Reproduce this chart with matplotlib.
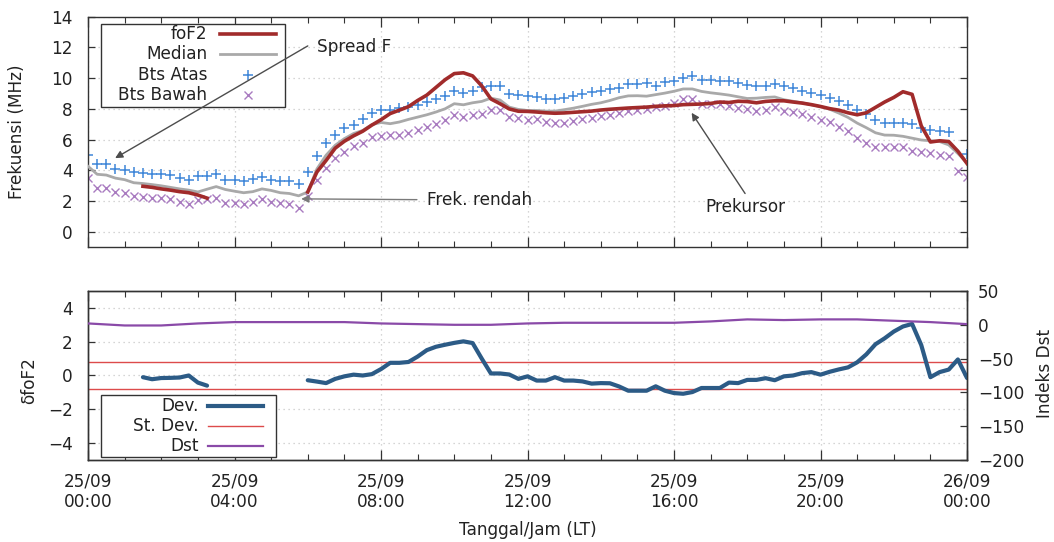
import numpy as np
import matplotlib
matplotlib.use("Agg")
import matplotlib.pyplot as plt
from matplotlib.lines import Line2D
from matplotlib.patches import Rectangle

nan = np.nan

# Time axis: 25/09 00:00 LT to 26/09 00:00 LT, 15-minute steps (hours)
hours = np.arange(97) * 0.25

# Upper bound of the quartile range (MHz)
bts_atas = [5.0, 4.4, 4.4, 4.1, 4.05, 3.9, 3.85, 3.8, 3.75, 3.7, 3.5, 3.35,
            3.65, 3.65, 3.8, 3.35, 3.35, 3.3, 3.45, 3.6, 3.4, 3.3, 3.3, 3.15,
            3.9, 4.95, 5.8, 6.33, 6.76, 6.98, 7.36, 7.75, 7.9, 7.95, 8.06, 8.12,
            8.27, 8.44, 8.66, 8.83, 9.14, 9.05, 9.14, 9.42, 9.48, 9.48, 8.98, 8.88,
            8.83, 8.79, 8.62, 8.62, 8.73, 8.83, 8.94, 9.09, 9.16, 9.27, 9.37, 9.59,
            9.59, 9.7, 9.52, 9.74, 9.81, 10.02, 10.13, 9.91, 9.91, 9.81, 9.81, 9.7,
            9.55, 9.46, 9.52, 9.61, 9.46, 9.35, 9.18, 9.03, 8.92, 8.7, 8.49, 8.23,
            7.95, 7.67, 7.3, 7.08, 7.08, 7.08, 7.02, 6.76, 6.65, 6.59, 6.5, nan,
            5.08]

# Lower bound of the quartile range (MHz)
bts_bawah = [3.52, 2.87, 2.87, 2.6, 2.55, 2.33, 2.3, 2.22, 2.18, 2.12, 1.94, 1.83,
             2.05, 2.12, 2.22, 1.9, 1.9, 1.79, 1.94, 2.12, 1.94, 1.85, 1.79, 1.57,
             2.35, 3.37, 4.13, 4.82, 5.2, 5.6, 5.8, 6.18, 6.24, 6.28, 6.33, 6.46,
             6.6, 6.82, 7.04, 7.26, 7.62, 7.47, 7.58, 7.69, 7.9, 7.9, 7.47, 7.4,
             7.3, 7.32, 7.15, 7.06, 7.1, 7.21, 7.32, 7.43, 7.54, 7.58, 7.75, 7.85,
             7.95, 8.0, 8.1, 8.19, 8.4, 8.62, 8.66, 8.29, 8.29, 8.29, 8.19, 8.08,
             7.98, 7.88, 7.95, 8.1, 7.88, 7.8, 7.67, 7.45, 7.3, 7.15, 6.8, 6.59,
             6.11, 5.79, 5.5, 5.5, 5.5, 5.5, 5.29, 5.2, 5.14, 5.03, 4.92, 3.95,
             3.56]

# Monthly median foF2 (MHz)
median = [4.27, 3.75, 3.7, 3.5, 3.4, 3.2, 3.15, 3.08, 3.0, 2.9, 2.8, 2.72,
          2.6, 2.78, 2.95, 2.76, 2.65, 2.55, 2.62, 2.8, 2.7, 2.55, 2.5, 2.35,
          2.6, 4.1, 4.99, 5.64, 6.07, 6.4, 6.6, 6.98, 7.12, 7.04, 7.15, 7.32,
          7.47, 7.62, 7.8, 8.01, 8.34, 8.27, 8.4, 8.49, 8.7, 8.58, 8.12, 7.97,
          7.9, 7.9, 7.86, 7.86, 7.95, 8.05, 8.17, 8.3, 8.4, 8.55, 8.73, 8.85,
          8.86, 8.83, 8.93, 9.03, 9.15, 9.3, 9.3, 9.14, 9.05, 8.98, 8.9, 8.79,
          8.68, 8.7, 8.75, 8.78, 8.6, 8.5, 8.4, 8.27, 8.15, 7.98, 7.73, 7.45,
          7.08, 6.78, 6.45, 6.3, 6.29, 6.22, 6.1, 5.98, 5.93, 5.88, 5.66, 5.1,
          4.5]

# Observed foF2 (MHz); gaps where no value was scaled
fof2 = [nan, nan, nan, nan, nan, nan, 2.97, 2.9, 2.8, 2.72, 2.62, 2.55,
        2.4, 2.2, nan, nan, nan, nan, nan, nan, nan, nan, nan, nan,
        2.6, 3.9, 4.65, 5.45, 5.9, 6.25, 6.55, 6.95, 7.3, 7.7, 7.92, 8.15,
        8.55, 8.9, 9.4, 9.9, 10.3, 10.35, 10.15, 9.5, 8.65, 8.34, 8.0, 7.85,
        7.84, 7.8, 7.75, 7.72, 7.74, 7.78, 7.82, 7.86, 7.93, 7.98, 8.02, 8.06,
        8.09, 8.12, 8.17, 8.2, 8.22, 8.28, 8.3, 8.32, 8.36, 8.45, 8.42, 8.5,
        8.48, 8.4, 8.49, 8.53, 8.53, 8.45, 8.38, 8.28, 8.16, 8.02, 7.92, 7.75,
        7.62, 7.75, 8.1, 8.45, 8.75, 9.12, 8.95, 6.9, 5.85, 5.93, 5.88, 5.25,
        4.45]

# Deviation of foF2 from the median (MHz)
dev = [nan, nan, nan, nan, nan, nan, -0.1, -0.22, -0.15, -0.14, -0.12, 0.0,
       -0.42, -0.6, nan, nan, nan, nan, nan, nan, nan, nan, nan, nan,
       -0.28, -0.36, -0.45, -0.2, -0.05, 0.05, 0.0, 0.08, 0.38, 0.75, 0.75, 0.8,
       1.12, 1.5, 1.7, 1.82, 1.93, 2.02, 1.92, 1.0, 0.12, 0.12, 0.06, -0.2,
       -0.05, -0.3, -0.3, -0.1, -0.3, -0.3, -0.35, -0.48, -0.45, -0.46, -0.65, -0.9,
       -0.9, -0.9, -0.64, -0.9, -1.04, -1.08, -0.98, -0.74, -0.74, -0.74, -0.42, -0.45,
       -0.26, -0.26, -0.16, -0.28, -0.05, 0.0, 0.14, 0.2, 0.05, 0.22, 0.36, 0.48,
       0.78, 1.25, 1.85, 2.2, 2.6, 2.9, 3.05, 1.8, -0.1, 0.2, 0.35, 0.95,
       -0.15]

# Standard deviation band (MHz)
st_dev = 0.78

# Hourly Dst index (nT)
dst_hours = np.arange(25)
dst = [2, -1, -1, 2, 4, 4, 4, 4, 2, 1, 0, 0, 2, 3, 3, 3, 3, 5, 8, 7, 8, 8, 6, 4, 1]

# Date/time tick labels
tick_hours = [0, 4, 8, 12, 16, 20, 24]
tick_dates = ["25/09", "25/09", "25/09", "25/09", "25/09", "25/09", "26/09"]
tick_times = ["00:00", "04:00", "08:00", "12:00", "16:00", "20:00", "00:00"]

FS = 12.2
TXT = "#222222"
plt.rcParams["font.family"] = ["DejaVu Sans"]
plt.rcParams["font.size"] = FS

c_fof2 = "#a12b2b"
c_med = "#a9a9a9"
c_atas = "#3f86d8"
c_bawah = "#a97bc0"
c_dev = "#2c5b86"
c_sd = "#dd4b4b"
c_dst = "#8a4aa8"
c_grid = "#c8c8c8"

W, H = 1054, 542
fig = plt.figure(figsize=(W / 100, H / 100), dpi=100)
ax1 = fig.add_axes([0.0835, 0.5437, 0.834, 0.4255])
ax2 = fig.add_axes([0.0835, 0.1513, 0.834, 0.3118])
ax2r = ax2.twinx()


def style_x(ax, labels):
    ax.set_xlim(0, 24)
    ax.set_xticks(tick_hours)
    ax.set_xticks(np.arange(25), minor=True)
    ax.tick_params(axis="x", which="major", direction="in", length=7,
                   width=0.9, top=True, bottom=True, colors="#333333",
                   labelcolor=TXT, pad=9)
    ax.tick_params(axis="x", which="minor", direction="in", length=4,
                   width=0.8, top=True, bottom=True, colors="#333333")
    if labels:
        ax.set_xticklabels([f"{d}\n{t}" for d, t in zip(tick_dates, tick_times)],
                           fontsize=FS, linespacing=1.2)
    else:
        ax.set_xticklabels([])
    ax.grid(True, which="major", linestyle=(0, (1, 3)), color=c_grid, lw=0.9)
    for s in ax.spines.values():
        s.set_color("#333333")
        s.set_linewidth(1.0)


def key_box(ax, box, rows, text_right, sample):
    """Draw a gnuplot-style key: right-aligned titles followed by samples.

    box = (x0, y0, x1, y1) and positions are figure pixels from top-left.
    """
    bb = ax.get_position()
    ax_l, ax_w = bb.x0 * W, bb.width * W
    ax_b, ax_h = (1 - bb.y0) * H, bb.height * H

    def fx(x):
        return (x - ax_l) / ax_w

    def fy(y):
        return (ax_b - y) / ax_h

    x0, y0, x1, y1 = box
    ax.add_patch(Rectangle((fx(x0), fy(y1)), fx(x1) - fx(x0), fy(y0) - fy(y1),
                           transform=ax.transAxes, facecolor="white",
                           edgecolor="#333333", lw=1.0, zorder=5,
                           clip_on=False))
    for y, label, style in rows:
        ax.text(fx(text_right), fy(y), label, transform=ax.transAxes,
                ha="right", va="center", fontsize=FS, color=TXT, zorder=5.5)
        if "marker" in style:
            xm = 0.5 * (sample[0] + sample[1])
            ax.add_line(Line2D([fx(xm)], [fy(y)], transform=ax.transAxes,
                               linestyle="none", zorder=5.5, **style))
        else:
            ax.add_line(Line2D([fx(sample[0]), fx(sample[1])], [fy(y), fy(y)],
                               transform=ax.transAxes, zorder=5.5, **style))


# ---- Upper panel: foF2 with median and quartile bounds ----
style_x(ax1, labels=False)
ax1.set_ylim(-1, 14)
ax1.set_yticks(np.arange(0, 15, 2))
ax1.tick_params(axis="y", direction="in", length=5, width=0.9, left=True,
                right=True, colors="#333333", labelcolor=TXT, pad=11,
                labelsize=FS)
st_atas = dict(color=c_atas, marker="+", ms=6.5, mew=1.1)
st_bawah = dict(color=c_bawah, marker="x", ms=5.3, mew=1.0)
st_med = dict(color=c_med, lw=2.0)
st_fof2 = dict(color=c_fof2, lw=2.6)
ax1.plot(hours, bts_atas, linestyle="none", zorder=2, **st_atas)
ax1.plot(hours, bts_bawah, linestyle="none", zorder=2, **st_bawah)
ax1.plot(hours, median, zorder=3, **st_med)
ax1.plot(hours, fof2, zorder=4, **st_fof2)
ax1.set_ylabel("Frekuensi (MHz)", fontsize=FS, color=TXT)
ax1.yaxis.set_label_coords(-0.0705, 0.5)

key_box(ax1, (101, 24, 285, 107),
        [(34, "foF2", st_fof2), (54, "Median", st_med),
         (75, "Bts Atas", st_atas), (95, "Bts Bawah", st_bawah)],
        text_right=207, sample=(220, 276))

arrow_kw = dict(arrowstyle="-|>", color="#4d4d4d", lw=1.0, mutation_scale=11,
                shrinkA=0, shrinkB=0)
ax1.annotate("", xy=(0.74, 4.8), xytext=(6.0, 12.1), arrowprops=arrow_kw,
             zorder=6)
ax1.text(6.24, 12.05, "Spread F", fontsize=FS, color=TXT, ha="left",
         va="center")
ax1.annotate("", xy=(5.82, 2.15), xytext=(8.98, 2.1),
             arrowprops=dict(arrow_kw, color="#7a7a7a"), zorder=6)
ax1.text(9.25, 2.1, "Frek. rendah", fontsize=FS, color=TXT, ha="left",
         va="center")
ax1.annotate("", xy=(16.48, 7.75), xytext=(17.94, 2.5), arrowprops=arrow_kw,
             zorder=6)
ax1.text(17.94, 1.6, "Prekursor", fontsize=FS, color=TXT, ha="center",
         va="center")

# ---- Lower panel: deviation, standard deviation and Dst ----
style_x(ax2, labels=True)
ax2.set_ylim(-5, 5)
ax2.set_yticks(np.arange(-4, 5, 2))
ax2.tick_params(axis="y", direction="in", length=5, width=0.9, left=True,
                right=False, colors="#333333", labelcolor=TXT, pad=11,
                labelsize=FS)
st_dev_line = dict(color=c_sd, lw=1.0)
st_dev_curve = dict(color=c_dev, lw=3.0)
st_dst = dict(color=c_dst, lw=1.6)
ax2.axhline(st_dev, zorder=2, **st_dev_line)
ax2.axhline(-st_dev, zorder=2, **st_dev_line)
ax2.plot(hours, dev, zorder=3, solid_capstyle="round", **st_dev_curve)
ax2.set_ylabel("\u03b4foF2", fontsize=FS, color=TXT)
ax2.yaxis.set_label_coords(-0.057, 0.47)
ax2.set_xlabel("Tanggal/Jam (LT)", fontsize=FS, color=TXT)
ax2.xaxis.set_label_coords(0.5, -0.36)

ax2r.set_ylim(-200, 50)
ax2r.set_yticks(np.arange(-200, 51, 50))
ax2r.tick_params(axis="y", direction="in", length=5, width=0.9, right=True,
                 colors="#333333", labelcolor=TXT, pad=8, labelsize=FS)
ax2r.plot(dst_hours, dst, zorder=3, **st_dst)
ax2r.set_ylabel("Indeks Dst", fontsize=FS, color=TXT)
ax2r.yaxis.set_label_coords(1.079, 0.515)
for s in ax2r.spines.values():
    s.set_color("#333333")
    s.set_linewidth(1.0)

key_box(ax2r, (101, 395, 276, 457),
        [(406, "Dev.", st_dev_curve), (426, "St. Dev.", st_dev_line),
         (446, "Dst", st_dst)],
        text_right=199, sample=(208, 263))

fig.savefig("out.png", dpi=100, facecolor="white")
